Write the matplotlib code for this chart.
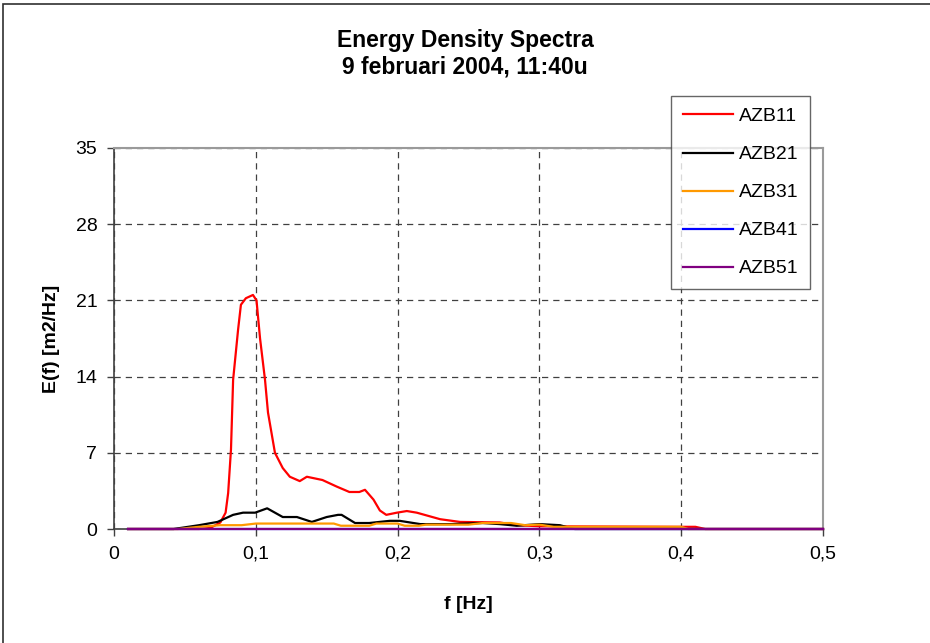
import matplotlib.pyplot as plt
from matplotlib.patches import Rectangle
from matplotlib.ticker import FuncFormatter

plt.rcParams['font.family'] = ['Liberation Sans', 'DejaVu Sans']

# %% data (f in Hz, E in m2/Hz)
f_azb11 = [0.01, 0.06, 0.068, 0.075, 0.0787, 0.0805, 0.0825, 0.084, 0.0875, 0.0895,
           0.093, 0.098, 0.1005, 0.103, 0.1065, 0.1086, 0.1135, 0.119, 0.124, 0.131,
           0.136, 0.147, 0.157, 0.166, 0.173, 0.177, 0.183, 0.1875, 0.192, 0.1995,
           0.2065, 0.2135, 0.23, 0.244, 0.272, 0.284, 0.3, 0.397, 0.41, 0.417, 0.5]
e_azb11 = [0, 0, 0.1, 0.6, 1.5, 3.3, 7.3, 13.7, 18.3, 20.6,
           21.2, 21.5, 21.0, 17.5, 13.7, 10.7, 7.0, 5.6, 4.8, 4.4,
           4.8, 4.5, 3.9, 3.4, 3.4, 3.6, 2.7, 1.7, 1.3, 1.5,
           1.65, 1.5, 0.9, 0.65, 0.6, 0.35, 0.25, 0.2, 0.2, 0, 0]

f_azb21 = [0.01, 0.042, 0.06, 0.073, 0.084, 0.091, 0.0995, 0.108, 0.1135, 0.119,
           0.129, 0.1395, 0.15, 0.158, 0.1605, 0.17, 0.18, 0.1945, 0.2015, 0.216,
           0.237, 0.26, 0.272, 0.284, 0.3, 0.3145, 0.32, 0.325, 0.5]
e_azb21 = [0, 0, 0.35, 0.65, 1.3, 1.5, 1.5, 1.9, 1.5, 1.1,
           1.1, 0.65, 1.1, 1.3, 1.3, 0.55, 0.55, 0.75, 0.75, 0.45,
           0.45, 0.55, 0.45, 0.3, 0.45, 0.35, 0.15, 0, 0]

f_azb31 = [0.01, 0.045, 0.06, 0.075, 0.09, 0.1, 0.155, 0.16, 0.18, 0.185, 0.2,
           0.205, 0.215, 0.22, 0.25, 0.26, 0.28, 0.29, 0.3, 0.31, 0.4, 0.405, 0.5]
e_azb31 = [0, 0, 0.2, 0.35, 0.35, 0.5, 0.5, 0.3, 0.3, 0.5, 0.5,
           0.3, 0.3, 0.4, 0.4, 0.55, 0.55, 0.35, 0.4, 0.2, 0.2, 0, 0]

f_azb41 = [0.01, 0.5]
e_azb41 = [0, 0]
f_azb51 = [0.01, 0.5]
e_azb51 = [0, 0]

series = [("AZB11", f_azb11, e_azb11, "#FF0000"),
          ("AZB21", f_azb21, e_azb21, "#000000"),
          ("AZB31", f_azb31, e_azb31, "#FF9900"),
          ("AZB41", f_azb41, e_azb41, "#0000FF"),
          ("AZB51", f_azb51, e_azb51, "#800080")]

x_ticks = [0, 0.1, 0.2, 0.3, 0.4, 0.5]
y_ticks = [0, 7, 14, 21, 28, 35]

# %% figure
fig = plt.figure(figsize=(9.3, 6.43), dpi=100)
ax = fig.add_axes([114/930, 1-529/643, (823-114)/930, (529-148)/643])

for name, f, e, col in series:
    # lines above the spines, like the Excel chart (purple covers the x axis)
    ax.plot(f, e, color=col, lw=1.6, label=name, solid_joinstyle='round',
            zorder=3, clip_on=False)

ax.set_xlim(0, 0.5)
ax.set_ylim(0, 35)
ax.set_xticks(x_ticks)
ax.set_yticks(y_ticks)
ax.xaxis.set_major_formatter(FuncFormatter(lambda v, p: ("%g" % v).replace(".", ",")))
ax.tick_params(direction='out', length=5, width=1, color='#404040', labelsize=14, pad=7)
ax.grid(True, color='#404040', ls=(0, (5, 4)), lw=0.9)
ax.set_axisbelow(True)

for s in ['left', 'bottom']:
    ax.spines[s].set_color('#404040')
    ax.spines[s].set_linewidth(1.2)
for s in ['top', 'right']:
    ax.spines[s].set_color('#9a9a9a')
    ax.spines[s].set_linewidth(1.5)

ax.set_xlabel("f [Hz]", fontsize=14, fontweight='bold', labelpad=24)
ax.set_ylabel("E(f) [m2/Hz]", fontsize=14, fontweight='bold', labelpad=11)

fig.text(0.5, 1-40/643, "Energy Density Spectra", ha='center', va='center',
         fontsize=16.5, fontweight='bold')
fig.text(0.5, 1-67/643, "9 februari 2004, 11:40u", ha='center', va='center',
         fontsize=16.5, fontweight='bold')

leg = fig.legend(loc='upper left', bbox_to_anchor=(671/930, 1-96/643), fontsize=14,
                 frameon=True, fancybox=False, edgecolor='#404040', borderpad=0.6,
                 labelspacing=1.05, handlelength=2.6, handletextpad=0.3,
                 borderaxespad=0)
leg.get_frame().set_linewidth(1)

# outer chart border (only top and left edges fall inside the image)
fig.patches.append(Rectangle((3/930, -0.05), 1.2, 1-4/643 + 0.05, transform=fig.transFigure,
                             fill=False, edgecolor='#303030', lw=1.2))

fig.savefig("out.png", dpi=100)
